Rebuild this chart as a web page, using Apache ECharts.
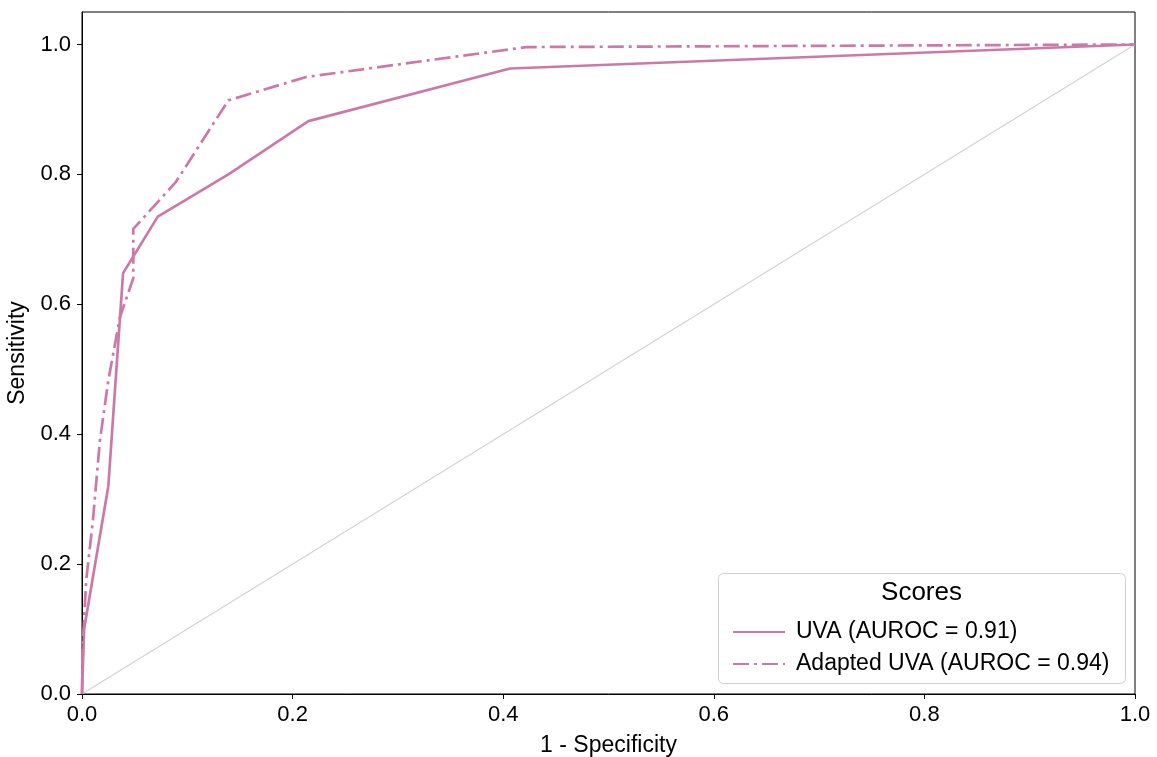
<!DOCTYPE html>
<html>
<head>
<meta charset="utf-8">
<title>ROC curves</title>
<script src="https://cdn.jsdelivr.net/npm/echarts@6/dist/echarts.min.js"></script>
<style>
  html, body { margin: 0; padding: 0; background: #fff; }
  #chart { width: 1157px; height: 757px; }
</style>
</head>
<body>
<div id="chart"></div>
<script>
// ROC points: false positive rate (1 - specificity) and true positive rate (sensitivity)
const uvaFpr = [0, 0.002, 0.025, 0.039, 0.072, 0.139, 0.215, 0.4065, 1];
const uvaTpr = [0, 0.10, 0.32, 0.648, 0.735, 0.80, 0.882, 0.963, 1];

const adaptedFpr = [0, 0.0005, 0.004, 0.0104, 0.017, 0.025, 0.036, 0.0487, 0.0487, 0.089, 0.139, 0.213, 0.422, 1];
const adaptedTpr = [0, 0.07, 0.175, 0.268, 0.39, 0.483, 0.58, 0.64, 0.716, 0.788, 0.914, 0.95, 0.996, 1];

// chance line
const chanceFpr = [0, 1];
const chanceTpr = [0, 1];

const seriesNames = ['UVA (AUROC = 0.91)', 'Adapted UVA (AUROC = 0.94)'];
const legendTitle = 'Scores';
const xTicks = [0, 0.2, 0.4, 0.6, 0.8, 1.0];
const yTicks = [0, 0.2, 0.4, 0.6, 0.8, 1.0];

const pairs = (xs, ys) => xs.map((x, i) => [x, ys[i]]);

const FONT = "'Liberation Sans', Arial, sans-serif";
const PINK = '#CC79A7';

const chart = echarts.init(document.getElementById('chart'), null, { renderer: 'canvas' });

chart.setOption({
  animation: false,
  backgroundColor: '#ffffff',
  textStyle: { fontFamily: FONT, color: '#000' },
  grid: {
    left: 82, right: 22, top: 12, bottom: 63,
    outerBoundsMode: 'none',
    containLabel: false,
    show: true, borderColor: '#000', borderWidth: 1,
    backgroundColor: 'transparent'
  },
  xAxis: {
    type: 'value',
    min: 0, max: 1, interval: 0.2,
    name: '1 - Specificity',
    nameLocation: 'middle',
    nameGap: 40,
    nameTextStyle: { fontSize: 23, color: '#000', fontFamily: FONT },
    axisLine: { show: true, lineStyle: { color: '#000', width: 1 } },
    axisTick: { show: true, length: 5, lineStyle: { color: '#000', width: 1 }, customValues: xTicks },
    axisLabel: {
      fontSize: 22, color: '#000', margin: 10, fontFamily: FONT,
      customValues: xTicks,
      formatter: v => v.toFixed(1)
    },
    splitLine: { show: false }
  },
  yAxis: {
    type: 'value',
    min: 0, max: 1.05,
    name: 'Sensitivity',
    nameLocation: 'middle',
    nameGap: 46,
    nameTextStyle: { fontSize: 23, color: '#000', fontFamily: FONT },
    axisLine: { show: true, lineStyle: { color: '#000', width: 1 } },
    axisTick: { show: true, length: 5, lineStyle: { color: '#000', width: 1 }, customValues: yTicks },
    axisLabel: {
      fontSize: 22, color: '#000', margin: 11, fontFamily: FONT,
      customValues: yTicks,
      formatter: v => v.toFixed(1)
    },
    splitLine: { show: false }
  },
  legend: {
    data: seriesNames,
    orient: 'vertical',
    left: 727,
    top: 614,
    itemWidth: 52,
    itemHeight: 14,
    itemGap: 6,
    // line-only swatches
    itemStyle: { opacity: 0, color: 'rgba(0,0,0,0)', borderWidth: 0 },
    textStyle: { fontSize: 23, color: '#000', fontFamily: FONT, lineHeight: 26, padding: [0, 0, 0, 6] },
    z: 10
  },
  graphic: [
    {
      type: 'rect',
      left: 718, top: 573,
      shape: { width: 407, height: 110, r: 5 },
      style: { fill: 'rgba(255,255,255,0.85)', stroke: '#d0d0d0', lineWidth: 1 },
      z: 5
    },
    {
      type: 'text',
      x: 921.5, y: 593,
      style: {
        text: legendTitle,
        fontSize: 26, fontFamily: FONT, fill: '#000',
        align: 'center', verticalAlign: 'middle'
      },
      z: 6
    }
  ],
  series: [
    {
      name: 'chance',
      type: 'line',
      data: pairs(chanceFpr, chanceTpr),
      symbol: 'none',
      silent: true,
      lineStyle: { color: '#d3d3d3', width: 1.2 },
      z: 1
    },
    {
      name: seriesNames[0],
      type: 'line',
      data: pairs(uvaFpr, uvaTpr),
      symbol: 'none',
      color: PINK,
      lineStyle: { color: PINK, width: 2.7, type: 'solid' },
      z: 3
    },
    {
      name: seriesNames[1],
      type: 'line',
      data: pairs(adaptedFpr, adaptedTpr),
      symbol: 'none',
      color: PINK,
      lineStyle: { color: PINK, width: 2.7, type: [16, 5, 3, 5] },
      z: 3
    }
  ]
});
</script>
</body>
</html>
